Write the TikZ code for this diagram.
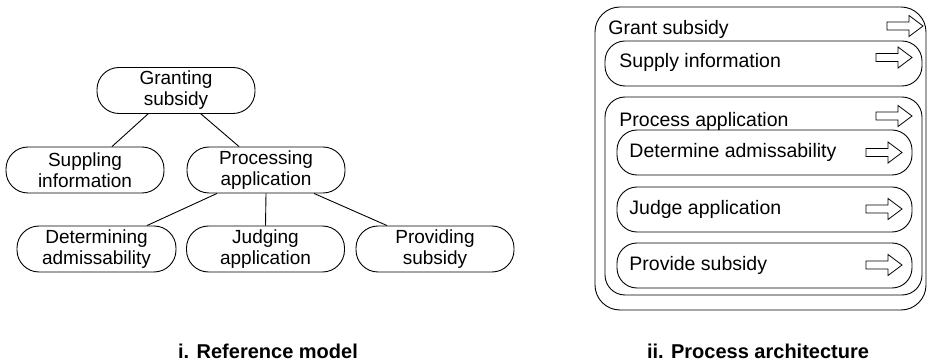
\documentclass[tikz,border=0pt]{standalone}
\usepackage{fontspec}
\setmainfont{Liberation Sans}
\usetikzlibrary{calc}
\begin{document}
\begin{tikzpicture}[x=1pt,y=-1pt,
  line width=0.9pt,
  every node/.style={font=\fontsize{19}{21}\selectfont},
  treebox/.style={draw, rounded corners=22pt, minimum width=158pt, minimum height=46pt, inner sep=0pt, align=center},
  archbox/.style={draw, rounded corners=20pt, inner sep=0pt},
  lbl/.style={anchor=base west, inner sep=0pt, font=\fontsize{19.5}{21}\selectfont},
  caption/.style={font=\fontsize{20}{22}\selectfont\bfseries, anchor=base, inner sep=0pt},
  blockarrow/.pic={\draw[line width=0.8pt, line join=miter] (-18,-4) -- (4,-4) -- (4,-10.5) -- (18,0) -- (4,10.5) -- (4,4) -- (-18,4) -- cycle;}
]
\useasboundingbox (0,0) rectangle (929,363);

% ---------- i. Reference model ----------
\node[treebox] (granting) at (176,90.5) {Granting\\subsidy};
\node[treebox] (suppling) at (85,170) {Suppling\\information};
\node[treebox] (processing) at (266,170) {Processing\\application};
\node[treebox, minimum width=159pt] (determining) at (96.5,249) {Determining\\admissability};
\node[treebox] (judging) at (265.5,249) {Judging\\application};
\node[treebox] (providing) at (435,249) {Providing\\subsidy};

\draw ($(granting.south)+(-28,0)$) -- ($(suppling.north)+(27,0)$);
\draw ($(granting.south)+(25,0)$) -- ($(processing.north)+(-27,0)$);
\draw ($(processing.south)+(-49,0)$) -- ($(determining.north)+(50.5,0)$);
\draw (processing.south) -- (judging.north);
\draw ($(processing.south)+(48,0)$) -- ($(providing.north)+(-48,0)$);

\node[caption] (cap1) at (268,358) {i. Reference model};

% ---------- ii. Process architecture ----------
\node[archbox, rounded corners=25pt, minimum width=331pt, minimum height=303pt] (grant) at (760.5,158.5) {};
\node[lbl] (grantlbl) at (608,35) {Grant subsidy};
\pic at (905,26) {blockarrow};

\node[archbox, minimum width=317pt, minimum height=45pt] (supply) at (763.5,63.5) {};
\node[lbl] (supplylbl) at (619,68) {Supply information};
\pic at (894,57.5) {blockarrow};

\node[archbox, minimum width=317pt, minimum height=198pt] (process) at (763.5,196) {};
\node[lbl] (processlbl) at (619,127) {Process application};
\pic at (894,116) {blockarrow};

\node[archbox, minimum width=295pt, minimum height=45pt] (determine) at (764.5,152.5) {};
\node[lbl] (determinelbl) at (629,158) {Determine admissability};
\pic at (884,152.5) {blockarrow};

\node[archbox, minimum width=295pt, minimum height=45pt] (judge) at (764.5,209.5) {};
\node[lbl] (judgelbl) at (629,215) {Judge application};
\pic at (884,209) {blockarrow};

\node[archbox, minimum width=295pt, minimum height=45pt] (provide) at (764.5,265.5) {};
\node[lbl] (providelbl) at (629,271) {Provide subsidy};
\pic at (884,265) {blockarrow};

\node[caption] (cap2) at (758,358) {ii. Process architecture};
\end{tikzpicture}
\end{document}
